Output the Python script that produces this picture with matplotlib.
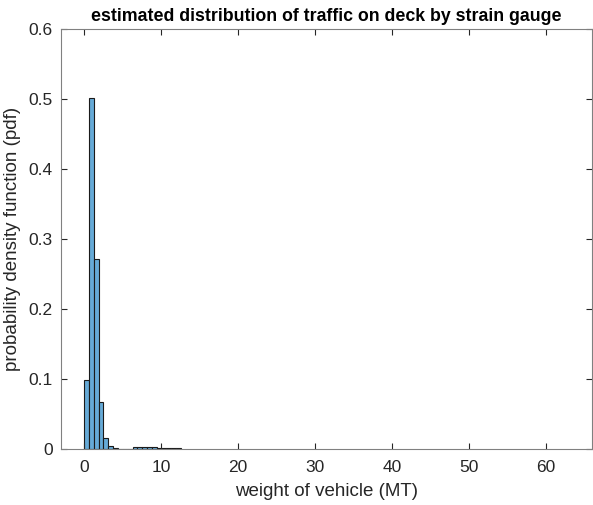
import numpy as np
import matplotlib
matplotlib.use("Agg")
import matplotlib.pyplot as plt

plt.rcParams['font.family'] = ['Liberation Sans', 'DejaVu Sans']

# histogram (pdf-normalized)
bin_width = 0.63
bin_edges = np.arange(21) * bin_width
pdf_values = [0.099, 0.501, 0.272, 0.067, 0.016, 0.0045, 0.0009, 0.0006, 0.0006, 0.0006,
              0.0028, 0.0028, 0.0028, 0.0028, 0.0028, 0.0009, 0.0009, 0.0009, 0.0009, 0.0009]

title = "estimated distribution of traffic on deck by strain gauge"
xlabel = "weight of vehicle (MT)"
ylabel = "probability density function (pdf)"
xticks = [0, 10, 20, 30, 40, 50, 60]
yticks = [0, 0.1, 0.2, 0.3, 0.4, 0.5, 0.6]

fig = plt.figure(figsize=(5.93, 5.05), dpi=100)
ax = fig.add_axes([0.1029, 0.1109, 0.8951, 0.8317])

face = (0.4, 0.668, 0.845)
ax.bar(bin_edges[:-1], pdf_values, width=np.diff(bin_edges), align='edge',
       color=face, edgecolor=(0.1, 0.1, 0.1), linewidth=0.8)

ax.set_xlim(-3, 66)
ax.set_ylim(0, 0.6)
ax.set_xticks(xticks)
ax.set_yticks(yticks)
ax.set_yticklabels(["0", "0.1", "0.2", "0.3", "0.4", "0.5", "0.6"])

axcol = (0.15, 0.15, 0.15)
for s in ax.spines.values():
    s.set_color((0.5, 0.5, 0.5))
    s.set_linewidth(0.8)
ax.tick_params(direction='in', top=True, right=True, length=4, width=0.8,
               color=axcol, labelcolor=axcol, labelsize=12.5)
ax.tick_params(axis='x', pad=8)
ax.tick_params(axis='y', pad=6)

ax.set_title(title, fontsize=12.8, fontweight='bold', pad=5.5)
ax.set_xlabel(xlabel, fontsize=13.5, color=axcol, labelpad=6)
ax.set_ylabel(ylabel, fontsize=13.5, color=axcol, labelpad=5)

fig.savefig("out.png", dpi=100)
